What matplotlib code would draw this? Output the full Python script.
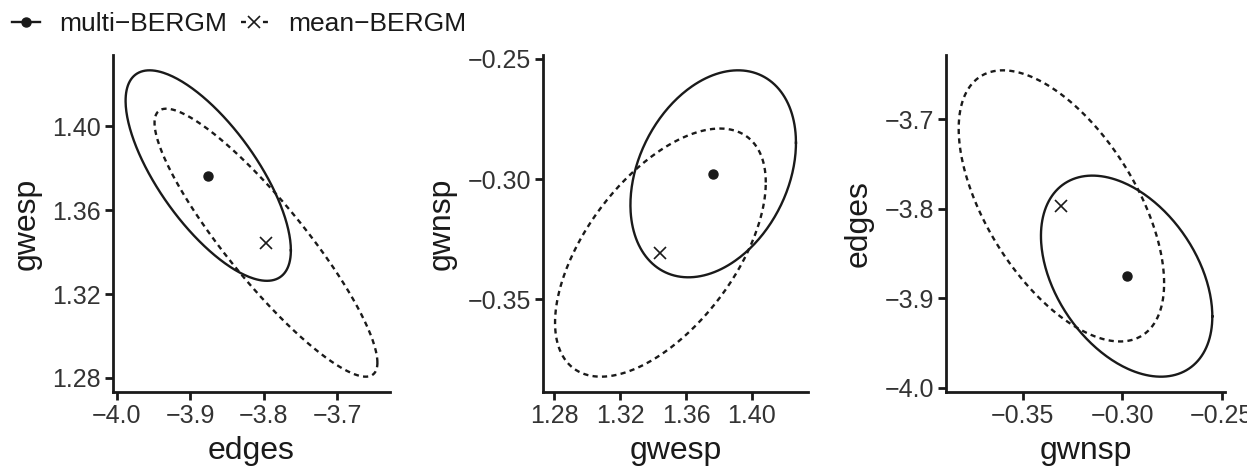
import numpy as np
import matplotlib
matplotlib.use('Agg')
import matplotlib.pyplot as plt
from matplotlib.lines import Line2D
from matplotlib.ticker import FuncFormatter

plt.rcParams['font.family'] = ['Liberation Sans', 'DejaVu Sans']

# Parameters and posterior summaries
params = ['edges', 'gwesp', 'gwnsp']
methods = ['multi\u2212BERGM', 'mean\u2212BERGM']

multi_mu = [-3.8755, 1.3765, -0.2978]
multi_sd = [0.0459, 0.0205, 0.0176]
multi_corr = [[1.00, -0.71, -0.40],
              [-0.71, 1.00, 0.30],
              [-0.40, 0.30, 1.00]]

mean_mu = [-3.797, 1.3445, -0.3306]
mean_sd = [0.0619, 0.0261, 0.0211]
mean_corr = [[1.00, -0.895, -0.57],
             [-0.895, 1.00, 0.565],
             [-0.57, 0.565, 1.00]]

level_chi2 = 5.991  # 95% region, 2 df

# pairs shown in the three panels (x, y)
pairs = [(0, 1), (1, 2), (2, 0)]
ticks = {
    0: [-4.0, -3.9, -3.8, -3.7],
    1: [1.28, 1.32, 1.36, 1.40],
    2: [-0.35, -0.30, -0.25],
}
decimals = {0: 1, 1: 2, 2: 2}


def ellipse(mu, sd, corr, i, j, n=300):
    cov = np.array([[sd[i] ** 2, corr[i][j] * sd[i] * sd[j]],
                    [corr[i][j] * sd[i] * sd[j], sd[j] ** 2]])
    L = np.linalg.cholesky(cov)
    t = np.linspace(0, 2 * np.pi, n)
    circ = np.vstack([np.cos(t), np.sin(t)]) * np.sqrt(level_chi2)
    pts = L @ circ
    return mu[i] + pts[0], mu[j] + pts[1]


def limits(k):
    # data range of both ellipses plus 5% each side
    c = np.sqrt(level_chi2)
    lo = min(multi_mu[k] - c * multi_sd[k], mean_mu[k] - c * mean_sd[k])
    hi = max(multi_mu[k] + c * multi_sd[k], mean_mu[k] + c * mean_sd[k])
    pad = 0.05 * (hi - lo)
    return lo - pad, hi + pad


def fmt(d):
    return FuncFormatter(
        lambda v, p: ('{:.%df}' % d).format(v).replace('-', '\u2212'))


W, H = 1247, 470
fig = plt.figure(figsize=(W / 100, H / 100), dpi=100)

# axes boxes in pixels: left, right, top, bottom
boxes = [(113, 390, 55, 392), (543, 808, 55, 392), (946, 1225, 55, 392)]

lw = 1.7
dash = (2.2, 1.8)
ink = '#1a1a1a'

for (i, j), (l, r, t, b) in zip(pairs, boxes):
    ax = fig.add_axes([l / W, (H - b) / H, (r - l) / W, (b - t) / H])
    x1, y1 = ellipse(multi_mu, multi_sd, multi_corr, i, j)
    x2, y2 = ellipse(mean_mu, mean_sd, mean_corr, i, j)
    ax.plot(x1, y1, color=ink, lw=lw)
    ax.plot(x2, y2, color=ink, lw=lw, dashes=dash)
    ax.plot(multi_mu[i], multi_mu[j], 'o', color=ink, ms=6.5)
    ax.plot(mean_mu[i], mean_mu[j], 'x', color=ink, ms=8.5, mew=1.2)

    ax.set_xlim(limits(i))
    ax.set_ylim(limits(j))
    ax.set_xticks(ticks[i])
    ax.set_yticks(ticks[j])
    ax.xaxis.set_major_formatter(fmt(decimals[i]))
    ax.yaxis.set_major_formatter(fmt(decimals[j]))
    ax.set_xlabel(params[i], fontsize=23, labelpad=6, color=ink)
    ax.set_ylabel(params[j], fontsize=23, labelpad=8, color=ink)

    for s in ['top', 'right']:
        ax.spines[s].set_visible(False)
    for s in ['left', 'bottom']:
        ax.spines[s].set_linewidth(2.0)
        ax.spines[s].set_color(ink)
    ax.tick_params(length=5.5, width=2.0, pad=3, labelsize=18,
                   color=ink, labelcolor='#333333')

handles = [
    Line2D([], [], color=ink, lw=lw, marker='o', ms=6.5),
    Line2D([], [], color=ink, lw=lw, dashes=(2.1, 7.2),
           marker='x', ms=8.5, mew=1.2),
]
fig.legend(handles, methods, loc='upper left', ncol=2, frameon=False,
           bbox_to_anchor=(12 / W, 1 - 12 / H), borderpad=0,
           borderaxespad=0, fontsize=19, handlelength=1.05,
           handletextpad=0.75, columnspacing=0.5, labelcolor=ink)

fig.savefig('out.png', dpi=100)
